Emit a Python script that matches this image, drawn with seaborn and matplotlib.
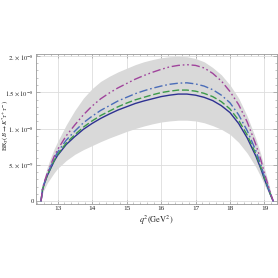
import matplotlib
matplotlib.use("Agg")

import numpy as np
import pandas as pd
import matplotlib.pyplot as plt
import seaborn as sns
from matplotlib.ticker import MultipleLocator, FixedLocator

# ==============================
# DATA (branching ratio in units of 1e-8)
# ==============================
q2 = [12.52, 12.56, 12.6, 12.7, 12.8, 12.9, 13.0, 13.25, 13.5, 13.75,
      14.0, 14.25, 14.5, 14.75, 15.0, 15.25, 15.5, 15.75, 16.0, 16.25,
      16.5, 16.75, 17.0, 17.25, 17.5, 17.75, 18.0, 18.25, 18.5, 18.75,
      18.9, 19.0, 19.1, 19.18, 19.23, 19.25]

br_solid = [0, 0.15, 0.22, 0.35, 0.45, 0.55, 0.63, 0.78, 0.89, 0.99,
            1.07, 1.14, 1.20, 1.255, 1.30, 1.345, 1.38, 1.41, 1.44, 1.46,
            1.475, 1.475, 1.46, 1.43, 1.385, 1.315, 1.22, 1.07, 0.87, 0.62,
            0.44, 0.30, 0.18, 0.08, 0.025, 0]
br_dashed = [0, 0.15, 0.22, 0.355, 0.46, 0.56, 0.645, 0.80, 0.915, 1.02,
             1.105, 1.18, 1.24, 1.30, 1.35, 1.395, 1.43, 1.465, 1.495, 1.515,
             1.53, 1.53, 1.515, 1.485, 1.44, 1.37, 1.27, 1.115, 0.91, 0.65,
             0.46, 0.315, 0.19, 0.085, 0.027, 0]
br_dashdot = [0, 0.16, 0.23, 0.37, 0.48, 0.585, 0.675, 0.84, 0.965, 1.08,
              1.17, 1.25, 1.315, 1.38, 1.43, 1.48, 1.52, 1.555, 1.585, 1.61,
              1.625, 1.63, 1.615, 1.585, 1.535, 1.46, 1.355, 1.19, 0.97, 0.695,
              0.495, 0.335, 0.20, 0.09, 0.03, 0]
br_dotdash = [0, 0.16, 0.24, 0.385, 0.50, 0.615, 0.71, 0.90, 1.05, 1.19,
              1.31, 1.41, 1.49, 1.56, 1.62, 1.68, 1.73, 1.775, 1.815, 1.85,
              1.87, 1.88, 1.87, 1.835, 1.76, 1.655, 1.51, 1.33, 1.09, 0.78,
              0.56, 0.38, 0.23, 0.10, 0.035, 0]
band_hi = [0, 0.20, 0.30, 0.47, 0.60, 0.72, 0.82, 1.05, 1.25, 1.42,
           1.55, 1.65, 1.72, 1.78, 1.83, 1.88, 1.92, 1.95, 1.975, 1.99,
           1.995, 1.99, 1.965, 1.92, 1.84, 1.74, 1.60, 1.42, 1.17, 0.86,
           0.64, 0.45, 0.28, 0.13, 0.045, 0]
band_lo = [0, 0.10, 0.15, 0.25, 0.32, 0.39, 0.45, 0.56, 0.645, 0.71,
           0.765, 0.82, 0.87, 0.915, 0.96, 1.00, 1.035, 1.065, 1.09, 1.105,
           1.115, 1.115, 1.105, 1.08, 1.04, 0.99, 0.92, 0.81, 0.66, 0.47,
           0.33, 0.22, 0.13, 0.06, 0.02, 0]

ytick_vals = [0, 0.5e-8, 1.0e-8, 1.5e-8, 2.0e-8]
ytick_labels = ["0", r"$5.\times10^{-9}$", r"$1.\times10^{-8}$",
                r"$1.5\times10^{-8}$", r"$2.\times10^{-8}$"]

scale = 1e-8
df = pd.DataFrame({
    "q2": q2,
    "solid": np.array(br_solid) * scale,
    "dashed": np.array(br_dashed) * scale,
    "dashdot": np.array(br_dashdot) * scale,
    "dotdash": np.array(br_dotdash) * scale,
    "hi": np.array(band_hi) * scale,
    "lo": np.array(band_lo) * scale,
})

# ==============================
# PLOT
# ==============================
sns.set_theme(style="ticks")
plt.rcParams["font.family"] = ["Liberation Serif", "DejaVu Serif"]
plt.rcParams["mathtext.fontset"] = "stix"

fig = plt.figure(figsize=(2.78, 2.78), dpi=100)
ax = fig.add_axes([0.129, 0.266, 0.867, 0.54])

ax.fill_between(df["q2"], df["lo"], df["hi"], color="#d9d9d9", lw=0, zorder=1)

sns.lineplot(data=df, x="q2", y="solid", ax=ax, color="#2e3192", lw=1.0, zorder=3)
sns.lineplot(data=df, x="q2", y="dashed", ax=ax, color="#3d9a4a", lw=1.0,
             zorder=3).lines[-1].set_dashes((5, 2))
sns.lineplot(data=df, x="q2", y="dashdot", ax=ax, color="#4a6cb8", lw=1.0,
             zorder=3).lines[-1].set_dashes((6, 2, 1.2, 2))
sns.lineplot(data=df, x="q2", y="dotdash", ax=ax, color="#a0449c", lw=1.0,
             zorder=3).lines[-1].set_dashes((6, 2, 1.2, 2, 1.2, 2))

ax.set_xlim(12.37, 19.36)
ax.set_ylim(-0.04e-8, 2.028e-8)

ax.xaxis.set_major_locator(MultipleLocator(1))
ax.xaxis.set_minor_locator(MultipleLocator(0.2))
ax.yaxis.set_major_locator(FixedLocator(ytick_vals))
ax.yaxis.set_minor_locator(MultipleLocator(0.1e-8))
ax.set_yticklabels(ytick_labels)

ax.grid(True, which="major", color="#dddddd", lw=0.6, zorder=0)
ax.set_axisbelow(True)
ax.tick_params(which="both", direction="in", top=True, right=True,
               color="#999999", pad=1.5)
ax.tick_params(axis="x", labelsize=5.2)
ax.tick_params(axis="y", labelsize=4.8)
ax.tick_params(which="major", length=3, width=0.5)
ax.tick_params(which="minor", length=1.5, width=0.4)
for sp in ax.spines.values():
    sp.set_color("#999999")
    sp.set_linewidth(0.6)

ax.set_xlabel(r"$q^2(\mathrm{GeV}^2)$", fontsize=6, labelpad=2)
ax.set_ylabel(r"$\mathrm{BR}_T(B\rightarrow K^{*}\tau^{+}\tau^{-})$", fontsize=4.8,
              va="center")
ax.yaxis.set_label_coords(-0.129, 0.52)

fig.savefig("out.png", dpi=100)
plt.close(fig)
